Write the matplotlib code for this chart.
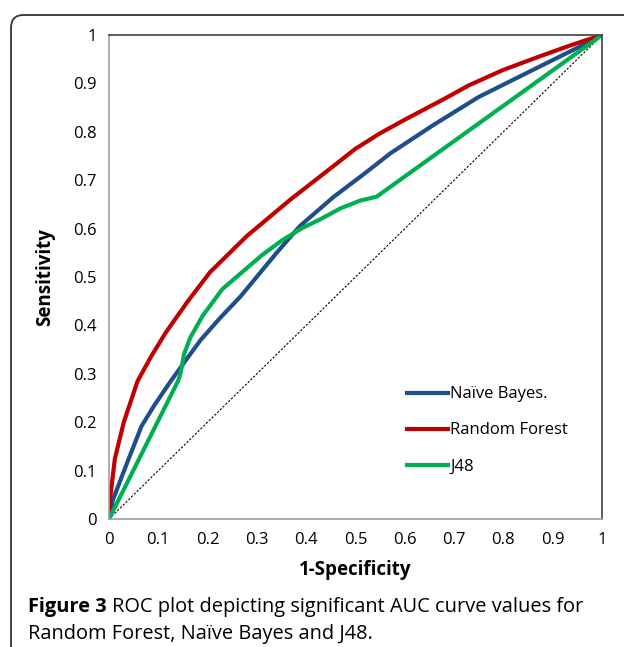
import matplotlib.pyplot as plt
from matplotlib.patches import FancyBboxPatch

plt.rcParams['font.family'] = ['Open Sans', 'DejaVu Sans']

# Naive Bayes
nb_fpr = [0, 0.008, 0.039, 0.066, 0.092, 0.124, 0.15, 0.186, 0.225, 0.267, 0.34,
          0.387, 0.455, 0.52, 0.57, 0.658, 0.75, 0.874, 0.955, 1]
nb_tpr = [0, 0.04, 0.122, 0.192, 0.235, 0.283, 0.32, 0.37, 0.415, 0.46, 0.55,
          0.605, 0.665, 0.715, 0.755, 0.814, 0.872, 0.935, 0.976, 1]

# Random Forest
rf_fpr = [0, 0.002, 0.012, 0.03, 0.058, 0.085, 0.115, 0.16, 0.205, 0.28, 0.368,
          0.45, 0.5, 0.55, 0.6, 0.68, 0.73, 0.8, 0.874, 0.94, 1]
rf_tpr = [0, 0.04, 0.125, 0.2, 0.285, 0.335, 0.385, 0.45, 0.51, 0.585, 0.66,
          0.725, 0.765, 0.797, 0.825, 0.868, 0.896, 0.928, 0.956, 0.98, 1]

# J48
j48_fpr = [0, 0.14, 0.145, 0.152, 0.165, 0.19, 0.23, 0.27, 0.31, 0.35, 0.39,
           0.43, 0.47, 0.51, 0.543, 1]
j48_tpr = [0, 0.285, 0.30, 0.34, 0.375, 0.42, 0.475, 0.51, 0.545, 0.575, 0.60,
           0.62, 0.642, 0.658, 0.666, 1]

ticks = [0, 0.1, 0.2, 0.3, 0.4, 0.5, 0.6, 0.7, 0.8, 0.9, 1]
tick_labels = ['0', '0.1', '0.2', '0.3', '0.4', '0.5', '0.6', '0.7', '0.8', '0.9', '1']

fig = plt.figure(figsize=(6.24, 6.47), dpi=100)

# cornice arrotondata, tagliata a destra e in basso
box = FancyBboxPatch((11 / 624, -0.2), 1.2, (647 - 15) / 647 + 0.2,
                     boxstyle="round,pad=0,rounding_size=0.02",
                     transform=fig.transFigure, fill=False,
                     edgecolor='#333333', linewidth=1.3)
fig.patches.append(box)

ax = fig.add_axes([109 / 624, 1 - 519 / 647, 493 / 624, 484 / 647])

ax.plot([0, 1], [0, 1], color='black', linestyle=(0, (2, 1.5)), linewidth=0.8)
ax.plot(nb_fpr, nb_tpr, color='#1F4E8C', linewidth=3, label='Naïve Bayes.')
ax.plot(rf_fpr, rf_tpr, color='#C00000', linewidth=3, label='Random Forest')
ax.plot(j48_fpr, j48_tpr, color='#00B050', linewidth=3, label='J48')

ax.set_xlim(0, 1)
ax.set_ylim(0, 1)
ax.set_xticks(ticks)
ax.set_xticklabels(tick_labels)
ax.set_yticks(ticks)
ax.set_yticklabels(tick_labels)
ax.tick_params(length=0, labelsize=12, pad=9)

for side in ['left', 'bottom']:
    ax.spines[side].set_color('#A0A0A0')
for side in ['top', 'right']:
    ax.spines[side].set_color('#404040')
for s in ax.spines.values():
    s.set_linewidth(1.2)

ax.set_xlabel('1-Specificity', fontsize=13.5, fontweight='bold', labelpad=9)
ax.set_ylabel('Sensitivity', fontsize=13.5, fontweight='bold', labelpad=13)

ax.legend(loc='upper left', bbox_to_anchor=(0.575, 0.305), frameon=False,
          fontsize=12, handlelength=2.45, handletextpad=0.1, labelspacing=1.2)

# didascalia: "Figure 3" in grassetto, poi testo normale
x0 = 28 / 624
y1 = 1 - 607 / 647
y2 = 1 - 634 / 647
bold = fig.text(x0, y1, 'Figure 3', fontsize=14.4, fontweight='bold', va='center')
renderer = fig.canvas.get_renderer()
bb = bold.get_window_extent(renderer)
fig.text(bb.x1 / fig.bbox.width + 5 / 624, y1,
         'ROC plot depicting significant AUC curve values for',
         fontsize=14.4, va='center')
fig.text(x0, y2, 'Random Forest, Naïve Bayes and J48.', fontsize=14.4, va='center')

fig.savefig('out.png', dpi=100)
